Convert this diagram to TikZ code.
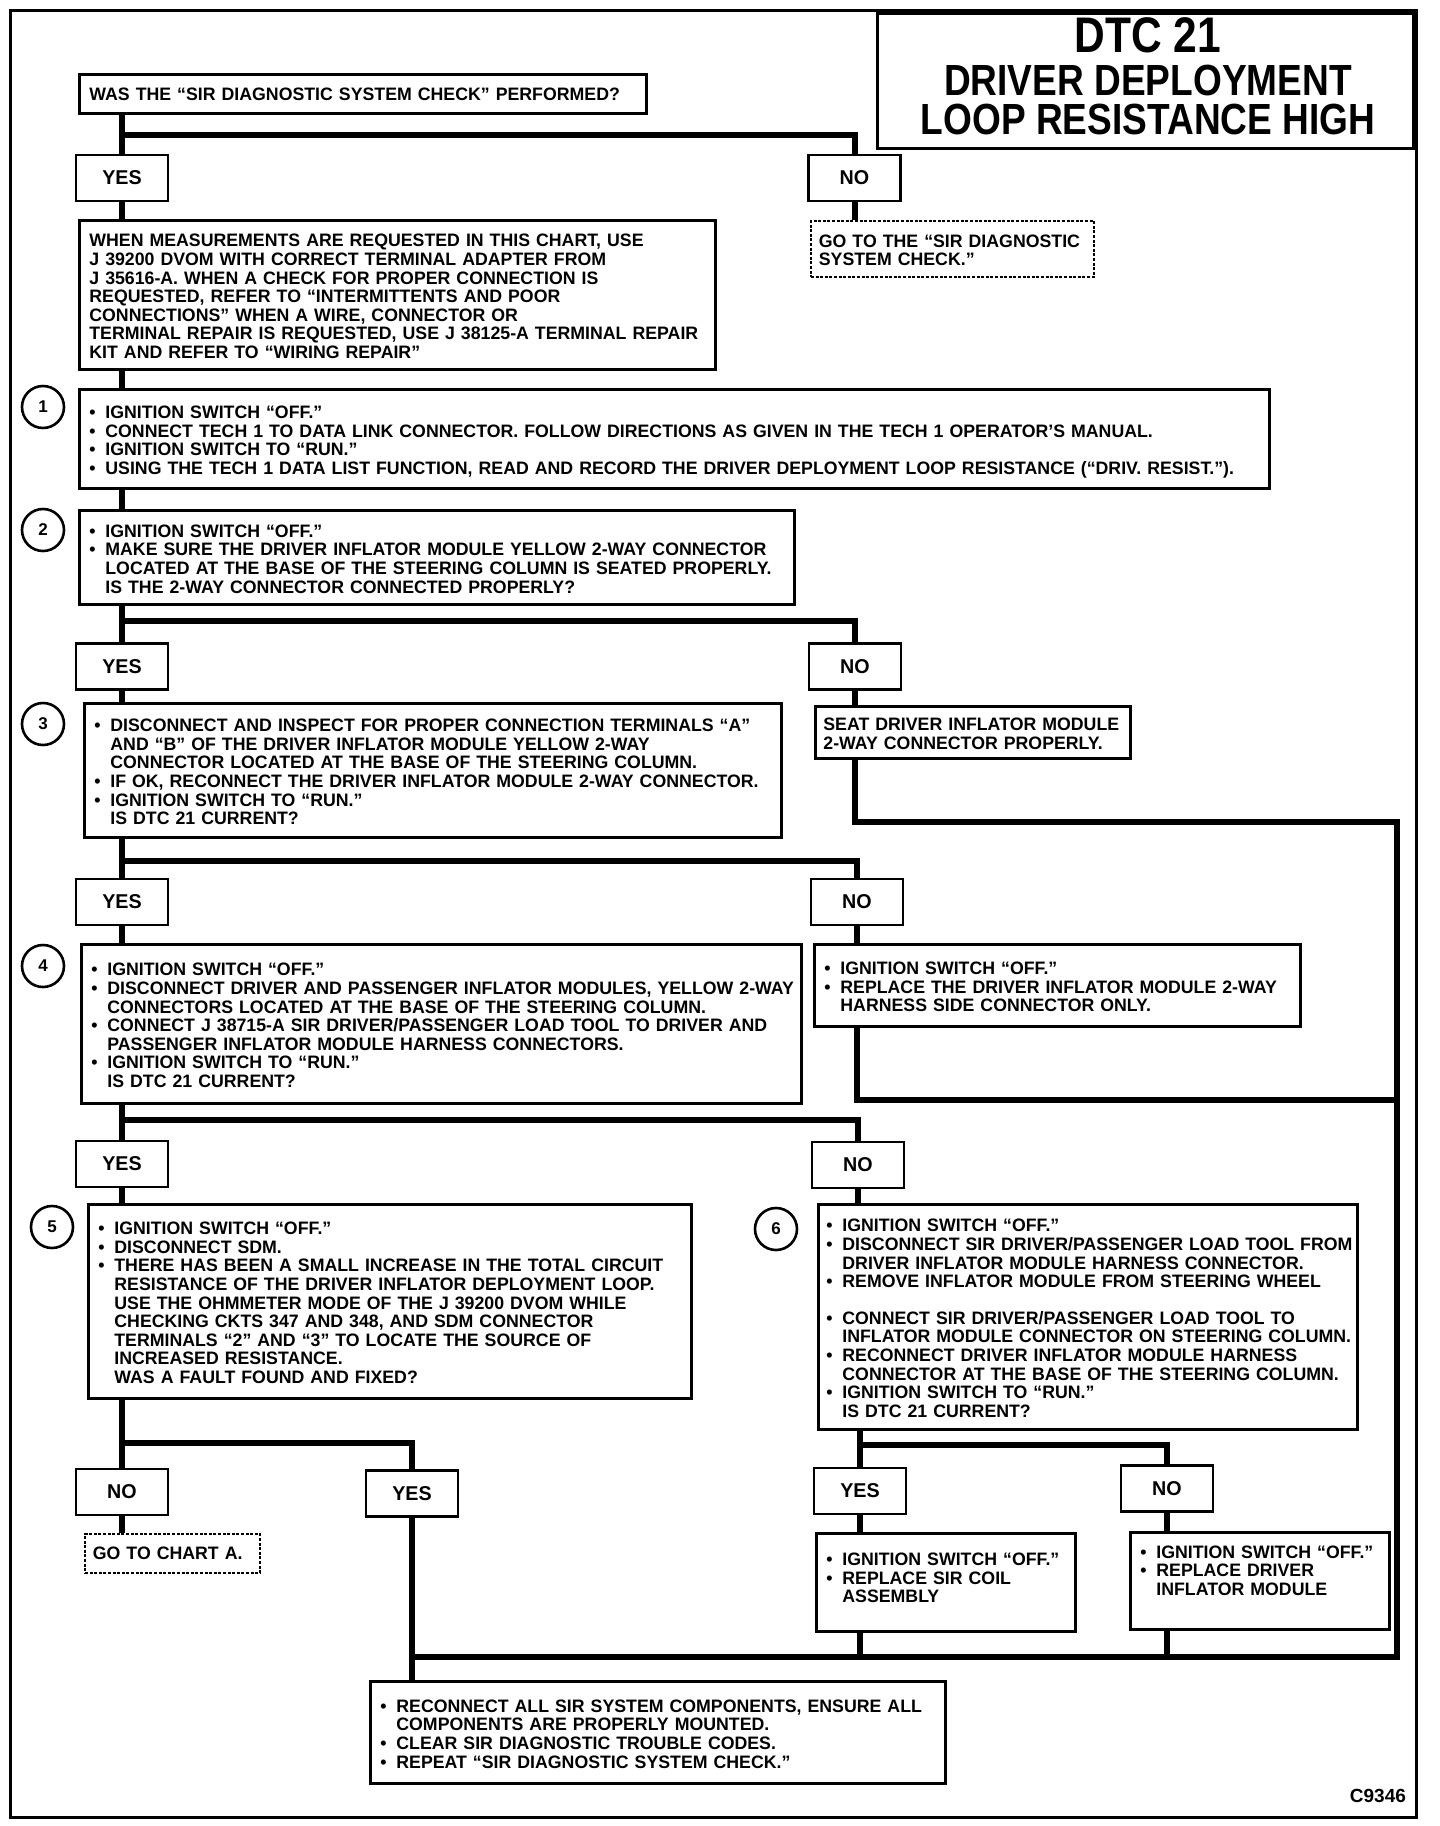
\documentclass[tikz,border=0pt]{standalone}
\usepackage{fontspec}
\setmainfont{Liberation Sans}
\newfontfamily\titlefont{Liberation Sans}[FakeStretch=0.85]
\newfontfamily\bodyfont{Liberation Sans}[FakeStretch=0.985]
\newcommand{\bul}{\makebox[8pt][l]{•}}
\newcommand{\ind}{\hspace*{8pt}}
\newcommand{\blines}[1]{\raisebox{0pt}[\height][\dimexpr\depth-4pt\relax]{\begin{tabular}{@{}l@{}}#1\end{tabular}}}

\begin{document}
\begin{tikzpicture}[x=0.5pt,y=-0.5pt,
	box/.style={
		rectangle,
		draw=black,
		line width=1.4pt,
		anchor=north west,
		align=left,
		inner xsep=5pt,
		inner ysep=2pt,
		font=\bodyfont\bfseries\fontsize{9}{9.3}\selectfont
	},
	dbox/.style={box, line width=0.9pt, dash pattern=on 1.5pt off 0.8pt, inner xsep=4pt},
	yn/.style={rectangle, draw=black, line width=1.4pt, minimum width=46pt,
		minimum height=23pt, inner sep=0pt, font=\bodyfont\bfseries\fontsize{10}{10}\selectfont},
	num/.style={circle, draw=black, line width=1.3pt, minimum size=21pt,
		inner sep=0pt, font=\bfseries\fontsize{8.5}{9}\selectfont},
	ttl/.style={anchor=base, inner sep=0pt, text depth=0pt},
	conn/.style={line width=3pt}
	]
	\useasboundingbox (0,0) rectangle (1440,1826);
	
	% Frame and title
	\draw[line width=1.5pt] (10,10) rectangle (1416,1817);
	\node[draw=black, line width=1.4pt, anchor=north west, inner sep=0pt,
		minimum width=268pt, minimum height=67.5pt] (title) at (876,12) {};
	\node[ttl, text height=17.5pt, font=\titlefont\bfseries\fontsize{25}{25}\selectfont] (tl1) at (1148,52) {DTC 21};
	\node[ttl, text height=15.5pt, font=\titlefont\bfseries\fontsize{21.8}{22}\selectfont] (tl2) at (1148,95) {DRIVER DEPLOYMENT};
	\node[ttl, text height=15.5pt, font=\titlefont\bfseries\fontsize{21.8}{22}\selectfont] (tl3) at (1148,134) {LOOP RESISTANCE HIGH};
	
	% Question
	\node[box, text width=273.5pt, minimum height=19.5pt] (q) at (78,73)
	{\blines{WAS THE “SIR DIAGNOSTIC SYSTEM CHECK” PERFORMED?}};
	
	\node[yn] (yes1) at (122,178) {YES};
	\node[yn] (no1) at (854.5,178) {NO};
	
	\node[dbox, text width=133.5pt, minimum height=28pt] (nogo1) at (810,220)
	{\blines{GO TO THE “SIR DIAGNOSTIC\\ SYSTEM CHECK.”}};
	
	\node[box, text width=308pt, minimum height=74.5pt] (info) at (78,219)
	{\blines{WHEN MEASUREMENTS ARE REQUESTED IN THIS CHART, USE\\
	 J 39200 DVOM WITH CORRECT TERMINAL ADAPTER FROM\\
	 J 35616-A. WHEN A CHECK FOR PROPER CONNECTION IS\\
	 REQUESTED, REFER TO “INTERMITTENTS AND POOR\\
	 CONNECTIONS” WHEN A WIRE, CONNECTOR OR\\
	 TERMINAL REPAIR IS REQUESTED, USE J 38125-A TERMINAL REPAIR\\
	 KIT AND REFER TO “WIRING REPAIR”}};
	
	% Step 1
	\node[box, text width=585pt, minimum height=49.5pt] (s1) at (78,388)
	{\blines{\bul IGNITION SWITCH “OFF.”\\
	 \bul CONNECT TECH 1 TO DATA LINK CONNECTOR. FOLLOW DIRECTIONS AS GIVEN IN THE TECH 1 OPERATOR’S MANUAL.\\
	 \bul IGNITION SWITCH TO “RUN.”\\
	 \bul USING THE TECH 1 DATA LIST FUNCTION, READ AND RECORD THE DRIVER DEPLOYMENT LOOP RESISTANCE (“DRIV. RESIST.”).}};
	\node[num] (n1) at (43,407) {1};
	
	% Step 2
	\node[box, text width=347.5pt, minimum height=47pt] (s2) at (78,509)
	{\blines{\bul IGNITION SWITCH “OFF.”\\
	 \bul MAKE SURE THE DRIVER INFLATOR MODULE YELLOW 2-WAY CONNECTOR\\
	 \ind LOCATED AT THE BASE OF THE STEERING COLUMN IS SEATED PROPERLY.\\
	 \ind IS THE 2-WAY CONNECTOR CONNECTED PROPERLY?}};
	\node[num] (n2) at (43,530) {2};
	
	\node[yn] (yes2) at (122,666.5) {YES};
	\node[yn] (no2) at (855,666.5) {NO};
	
	% Step 3
	\node[box, text width=338.5pt, minimum height=67pt] (s3) at (83,702)
	{\blines{\bul DISCONNECT AND INSPECT FOR PROPER CONNECTION TERMINALS “A”\\
	 \ind AND “B” OF THE DRIVER INFLATOR MODULE YELLOW 2-WAY\\
	 \ind CONNECTOR LOCATED AT THE BASE OF THE STEERING COLUMN.\\
	 \bul IF OK, RECONNECT THE DRIVER INFLATOR MODULE 2-WAY CONNECTOR.\\
	 \bul IGNITION SWITCH TO “RUN.”\\
	 \ind IS DTC 21 CURRENT?}};
	\node[num] (n3) at (43,724) {3};
	
	\node[box, text width=149.5pt, minimum height=26pt, inner xsep=4pt] (seat) at (814,705)
	{\blines{SEAT DRIVER INFLATOR MODULE\\ 2-WAY CONNECTOR PROPERLY.}};
	
	\node[yn] (yes3) at (122,902) {YES};
	\node[yn] (no3) at (857,902) {NO};
	
	% Step 4
	\node[box, text width=350pt, minimum height=79.5pt] (s4) at (80,943)
	{\blines{\bul IGNITION SWITCH “OFF.”\\
	 \bul DISCONNECT DRIVER AND PASSENGER INFLATOR MODULES, YELLOW 2-WAY\\
	 \ind CONNECTORS LOCATED AT THE BASE OF THE STEERING COLUMN.\\
	 \bul CONNECT J 38715-A SIR DRIVER/PASSENGER LOAD TOOL TO DRIVER AND\\
	 \ind PASSENGER INFLATOR MODULE HARNESS CONNECTORS.\\
	 \bul IGNITION SWITCH TO “RUN.”\\
	 \ind IS DTC 21 CURRENT?}};
	\node[num] (n4) at (43,966) {4};
	
	\node[box, text width=233pt, minimum height=41pt] (rep4) at (813,943)
	{\blines{\bul IGNITION SWITCH “OFF.”\\
	 \bul REPLACE THE DRIVER INFLATOR MODULE 2-WAY\\
	 \ind HARNESS SIDE CONNECTOR ONLY.}};
	
	\node[yn] (yes4) at (122,1164) {YES};
	\node[yn] (no4) at (858,1165) {NO};
	
	% Step 5
	\node[box, text width=291.5pt, minimum height=97pt] (s5) at (87,1203)
	{\blines{\bul IGNITION SWITCH “OFF.”\\
	 \bul DISCONNECT SDM.\\
	 \bul THERE HAS BEEN A SMALL INCREASE IN THE TOTAL CIRCUIT\\
	 \ind RESISTANCE OF THE DRIVER INFLATOR DEPLOYMENT LOOP.\\
	 \ind USE THE OHMMETER MODE OF THE J 39200 DVOM WHILE\\
	 \ind CHECKING CKTS 347 AND 348, AND SDM CONNECTOR\\
	 \ind TERMINALS “2” AND “3” TO LOCATE THE SOURCE OF\\
	 \ind INCREASED RESISTANCE.\\
	 \ind WAS A FAULT FOUND AND FIXED?}};
	\node[num] (n5) at (52,1227) {5};
	
	% Step 6
	\node[box, text width=261.5pt, minimum height=112.5pt, inner xsep=4pt] (s6) at (817,1203)
	{\blines{\bul IGNITION SWITCH “OFF.”\\
	 \bul DISCONNECT SIR DRIVER/PASSENGER LOAD TOOL FROM\\
	 \ind DRIVER INFLATOR MODULE HARNESS CONNECTOR.\\
	 \bul REMOVE INFLATOR MODULE FROM STEERING WHEEL\\[9pt]
	 \bul CONNECT SIR DRIVER/PASSENGER LOAD TOOL TO\\
	 \ind INFLATOR MODULE CONNECTOR ON STEERING COLUMN.\\
	 \bul RECONNECT DRIVER INFLATOR MODULE HARNESS\\
	 \ind CONNECTOR AT THE BASE OF THE STEERING COLUMN.\\
	 \bul IGNITION SWITCH TO “RUN.”\\
	 \ind IS DTC 21 CURRENT?}};
	\node[num] (n6) at (776,1229) {6};
	
	\node[yn] (no5) at (122,1492) {NO};
	\node[yn] (yes5) at (412,1493.5) {YES};
	\node[yn] (yes6) at (860,1491) {YES};
	\node[yn] (no6) at (1167,1488.5) {NO};
	
	\node[dbox, text width=79.5pt, minimum height=19.5pt] (chartA) at (84,1533)
	{\blines{GO TO CHART A.}};
	
	\node[box, text width=119.5pt, minimum height=49pt] (r6y) at (815,1532)
	{\blines{\bul IGNITION SWITCH “OFF.”\\
	 \bul REPLACE SIR COIL\\
	 \ind ASSEMBLY\\[6pt]}};
	\node[box, text width=119.5pt, minimum height=48.5pt] (r6n) at (1129,1531)
	{\blines{\bul IGNITION SWITCH “OFF.”\\
	 \bul REPLACE DRIVER\\
	 \ind INFLATOR MODULE\\[12pt]}};
	
	% Final step
	\node[box, text width=277.5pt, minimum height=51pt] (fin) at (369,1680)
	{\blines{\bul RECONNECT ALL SIR SYSTEM COMPONENTS, ENSURE ALL\\
	 \ind COMPONENTS ARE PROPERLY MOUNTED.\\
	 \bul CLEAR SIR DIAGNOSTIC TROUBLE CODES.\\
	 \bul REPEAT “SIR DIAGNOSTIC SYSTEM CHECK.”}};
	
	\node[anchor=base east, font=\bfseries\fontsize{9.5}{10}\selectfont] (code) at (1413,1802) {C9346};
	
	% Branch points
	\coordinate (br1) at (122,135);
	\coordinate (br2) at (122,621);
	\coordinate (br3) at (122,861);
	\coordinate (br4) at (122,1120);
	\coordinate (br5) at (122,1443);
	\coordinate (br6) at (860,1445);
	\coordinate (rt) at (1397,822);
	\coordinate (j4) at (1397,1100);
	\coordinate (mrg) at (412,1657);
	
	% Connectors
	\draw[conn] (yes1 |- q.south) -- (yes1.north);
	\draw[conn] (br1) -| (no1.north);
	\draw[conn] (no1.south) -- (no1 |- nogo1.north);
	\draw[conn] (yes1.south) -- (yes1 |- info.north);
	\draw[conn] (yes1 |- info.south) -- (yes1 |- s1.north);
	\draw[conn] (yes1 |- s1.south) -- (yes1 |- s2.north);
	
	\draw[conn] (yes2 |- s2.south) -- (yes2.north);
	\draw[conn] (br2) -| (no2.north);
	\draw[conn] (yes2.south) -- (yes2 |- s3.north);
	\draw[conn] (no2.south) -- (no2 |- seat.north);
	\draw[conn] (no2 |- seat.south) |- (rt) -- (rt |- mrg) -- (mrg);
	
	\draw[conn] (yes3 |- s3.south) -- (yes3.north);
	\draw[conn] (br3) -| (no3.north);
	\draw[conn] (yes3.south) -- (yes3 |- s4.north);
	\draw[conn] (no3.south) -- (no3 |- rep4.north);
	\draw[conn] (no3 |- rep4.south) |- (j4);
	
	\draw[conn] (yes4 |- s4.south) -- (yes4.north);
	\draw[conn] (br4) -| (no4.north);
	\draw[conn] (yes4.south) -- (yes4 |- s5.north);
	\draw[conn] (no4.south) -- (no4 |- s6.north);
	
	\draw[conn] (no5 |- s5.south) -- (no5.north);
	\draw[conn] (br5) -| (yes5.north);
	\draw[conn] (no5.south) -- (no5 |- chartA.north);
	\draw[conn] (yes5.south) -- (yes5 |- fin.north);
	
	\draw[conn] (yes6 |- s6.south) -- (yes6.north);
	\draw[conn] (br6) -| (no6.north);
	\draw[conn] (yes6.south) -- (yes6 |- r6y.north);
	\draw[conn] (no6.south) -- (no6 |- r6n.north);
	\draw[conn] (yes6 |- r6y.south) -- (yes6 |- mrg);
	\draw[conn] (no6 |- r6n.south) -- (no6 |- mrg);
	
\end{tikzpicture}
\end{document}
